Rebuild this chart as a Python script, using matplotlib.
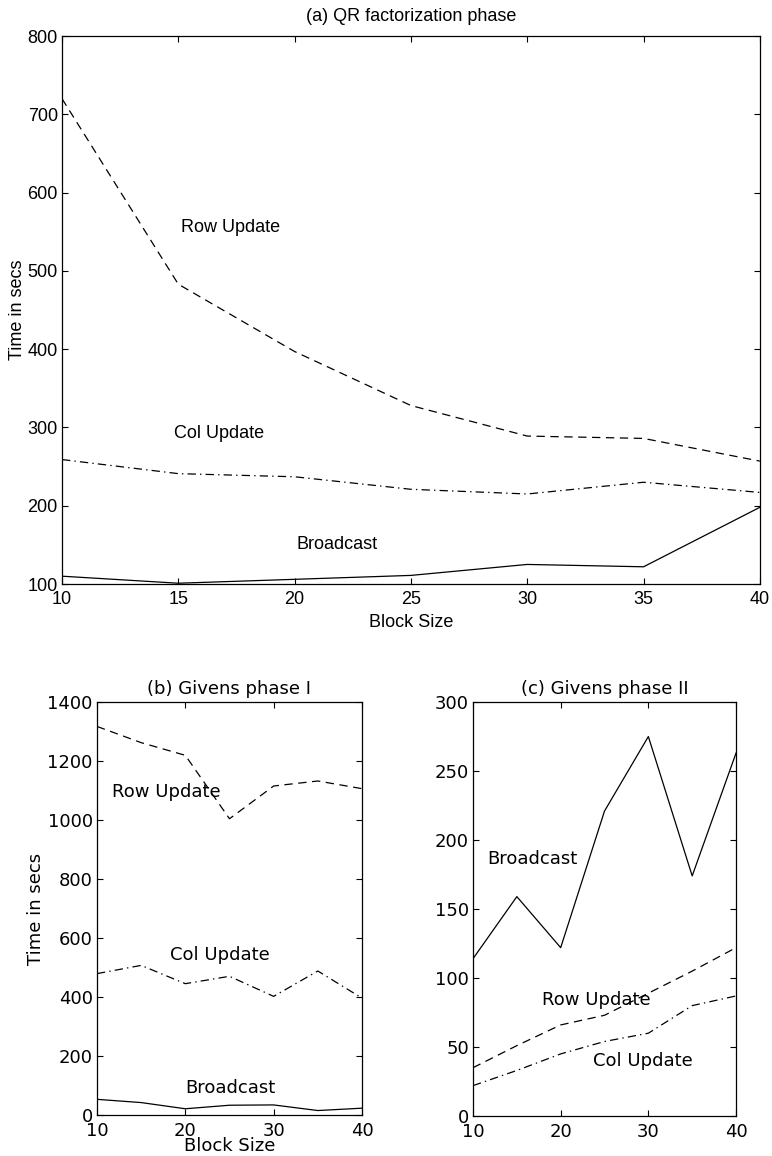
import matplotlib
matplotlib.use("Agg")
import matplotlib.pyplot as plt

# Block sizes shared by all three panels
block = [10, 15, 20, 25, 30, 35, 40]

# (a) QR factorization phase
qr_row = [720, 483, 397, 328, 289, 286, 257]
qr_col = [259, 241, 237, 221, 215, 230, 217]
qr_bcast = [110, 101, 106, 111, 125, 122, 198]

# (b) Givens phase I
g1_row = [1317, 1262, 1219, 1004, 1115, 1132, 1106]
g1_col = [479, 507, 445, 470, 402, 488, 396]
g1_bcast = [53, 42, 21, 33, 34, 15, 23]

# (c) Givens phase II
g2_row = [35, 51, 66, 73, 89, 105, 122]
g2_col = [22, 33, 45, 54, 60, 80, 87]
g2_bcast = [114, 159, 122, 221, 275, 174, 263]

plt.rcParams["lines.scale_dashes"] = False
DASH = (6, 4)
DASHDOT = (6, 3, 1, 3)
LW = 0.9


def style_axes(ax, fs, family, xpad):
    ax.tick_params(direction="in", top=True, right=True, length=4,
                   width=0.8, labelsize=fs, pad=3)
    ax.tick_params(axis="x", pad=xpad)
    for lab in ax.get_xticklabels() + ax.get_yticklabels():
        lab.set_family(family)
    for s in ax.spines.values():
        s.set_linewidth(0.9)


fig = plt.figure(figsize=(7.72, 11.56), dpi=100)

# ---- panel (a)
fa = "Liberation Sans"
sa = 13
ax = fig.add_axes([0.0803, 0.4948, 0.904, 0.474])
ax.plot(block, qr_row, color="k", lw=LW, dashes=DASH)
ax.plot(block, qr_col, color="k", lw=LW, dashes=DASHDOT)
ax.plot(block, qr_bcast, color="k", lw=LW)
ax.set_xlim(10, 40)
ax.set_ylim(100, 800)
ax.set_xticks(range(10, 41, 5))
ax.set_yticks(range(100, 801, 100))
style_axes(ax, sa, fa, 5)
ax.set_title("(a) QR factorization phase", fontsize=sa, family=fa, pad=11)
ax.set_xlabel("Block Size", fontsize=sa, family=fa, labelpad=4)
ax.set_ylabel("Time in secs", fontsize=sa, family=fa, labelpad=1)
ax.text(15.1, 556, "Row Update", fontsize=sa, family=fa, va="center")
ax.text(14.8, 292, "Col Update", fontsize=sa, family=fa, va="center")
ax.text(20.1, 151, "Broadcast", fontsize=sa, family=fa, va="center")

# ---- panel (b)
fb = "DejaVu Sans"
sb = 13
ax = fig.add_axes([0.1256, 0.0355, 0.3433, 0.3573])
ax.plot(block, g1_row, color="k", lw=LW, dashes=DASH)
ax.plot(block, g1_col, color="k", lw=LW, dashes=DASHDOT)
ax.plot(block, g1_bcast, color="k", lw=LW)
ax.set_xlim(10, 40)
ax.set_ylim(0, 1400)
ax.set_xticks(range(10, 41, 10))
ax.set_yticks(range(0, 1401, 200))
style_axes(ax, sb, fb, 5)
ax.set_title("(b) Givens phase I", fontsize=sb, family=fb, pad=6)
ax.set_xlabel("Block Size", fontsize=sb, family=fb, labelpad=-2)
ax.set_ylabel("Time in secs", fontsize=sb, family=fb, labelpad=2)
ax.text(11.7, 1095, "Row Update", fontsize=sb, family=fb, va="center")
ax.text(18.3, 542, "Col Update", fontsize=sb, family=fb, va="center")
ax.text(20.0, 92, "Broadcast", fontsize=sb, family=fb, va="center")

# ---- panel (c)
ax = fig.add_axes([0.6127, 0.0346, 0.3407, 0.3581])
ax.plot(block, g2_row, color="k", lw=LW, dashes=DASH)
ax.plot(block, g2_col, color="k", lw=LW, dashes=DASHDOT)
ax.plot(block, g2_bcast, color="k", lw=LW)
ax.set_xlim(10, 40)
ax.set_ylim(0, 300)
ax.set_xticks(range(10, 41, 10))
ax.set_yticks(range(0, 301, 50))
style_axes(ax, sb, fb, 5)
ax.set_title("(c) Givens phase II", fontsize=sb, family=fb, pad=6)
ax.text(11.6, 186, "Broadcast", fontsize=sb, family=fb, va="center")
ax.text(17.9, 84, "Row Update", fontsize=sb, family=fb, va="center")
ax.text(23.7, 40, "Col Update", fontsize=sb, family=fb, va="center")

fig.savefig("out.png", dpi=100)
